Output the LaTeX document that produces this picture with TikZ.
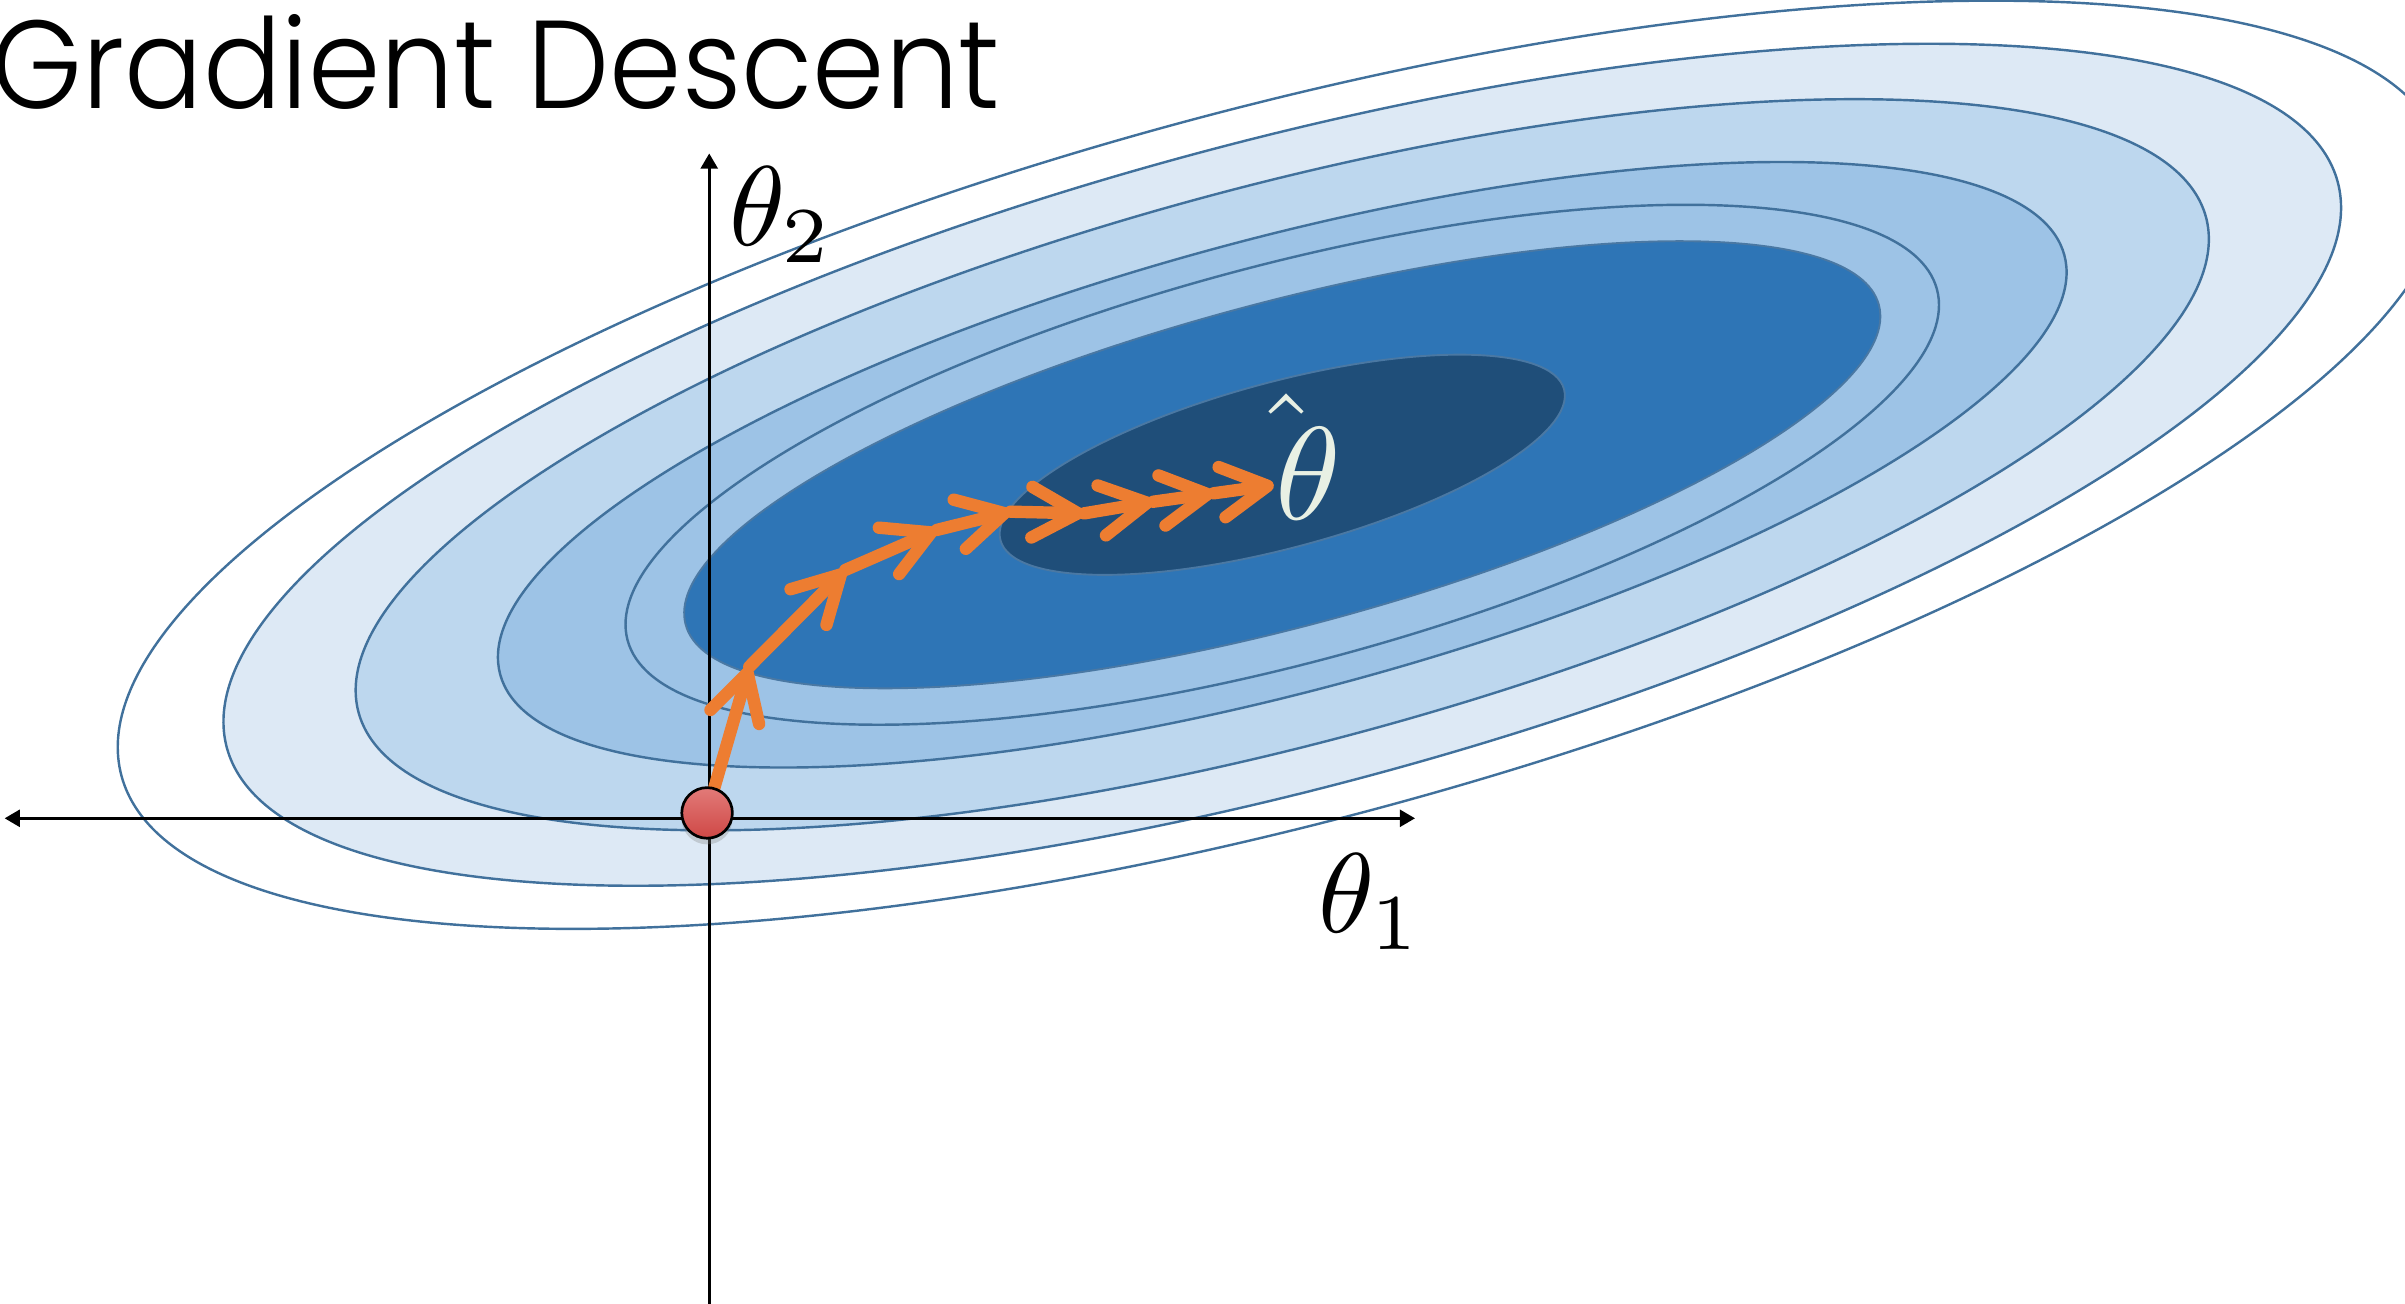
\documentclass[tikz,border=0pt]{standalone}
\usepackage{graphicx}
\usepackage{fontspec}
\usetikzlibrary{arrows.meta,shadows}
\IfFontExistsTF{Poppins Light}{\newfontfamily\titlefont{Poppins Light}}{\newfontfamily\titlefont{Poppins}}
\definecolor{lineblue}{HTML}{41719C}
\definecolor{coreline}{HTML}{4A78A3}
\definecolor{bandA}{HTML}{DDE9F5}
\definecolor{bandB}{HTML}{BDD7EE}
\definecolor{bandC}{HTML}{9DC3E6}
\definecolor{bandD}{HTML}{2E75B6}
\definecolor{bandE}{HTML}{1F4E79}
\definecolor{gdorange}{HTML}{ED7D31}
\definecolor{cream}{HTML}{E8F0E4}
\definecolor{dotTop}{HTML}{E27A78}
\definecolor{dotBot}{HTML}{CF4846}
\begin{document}
\begin{tikzpicture}[x=0.1mm,y=-0.1mm,
  contour/.style={draw=lineblue, line width=0.45pt, rotate around={15:(ctr)}},
  coreedge/.style={draw=coreline, line width=0.35pt, rotate around={15:(ctr)}},
  axis/.style={line width=0.6pt, draw=black},
  gdstep/.style={draw=gdorange, line width=2.3pt, line cap=round,
     -{Straight Barb[length=3mm,width=3.3mm,round]}},
  lbl/.style={inner sep=0pt},
  dot/.style={circle, minimum size=3.3mm, inner sep=0pt, draw=black, line width=0.5pt,
     top color=dotTop, bottom color=dotBot,
     drop shadow={opacity=0.3, shadow xshift=0pt, shadow yshift=-0.4mm}}
]
\useasboundingbox (0,0) rectangle (1568,850);
\coordinate (ctr) at (836,303);
\begin{scope}
\clip (0,0) rectangle (1568,850);
% level sets, outermost first
\path[contour] (ctr) ellipse [x radius=783.5, y radius=232.5];
\path[contour, fill=bandA] (ctr) ellipse [x radius=712.4, y radius=210.5];
\path[contour, fill=bandB] (ctr) ellipse [x radius=623.5, y radius=181.6];
\path[contour, fill=bandC] (ctr) ellipse [x radius=527.9, y radius=147.5];
\path[contour, fill=bandC] (ctr) ellipse [x radius=441.9, y radius=129.5];
\path[coreedge, fill=bandD] (ctr) ellipse [x radius=402.7, y radius=105.5];
\path[coreedge, fill=bandE] (ctr) ellipse [x radius=190.2, y radius=54.1];
\end{scope}

% title
\node[anchor=base west, inner sep=0pt, font=\titlefont\fontsize{23.2}{27}\selectfont]
  (title) at (-6,70.5) {\scalebox{0.93}[1]{Gradient Descent}};

% axes
\coordinate (axL) at (3,533.5);
\coordinate (axR) at (922.6,533.5);
\coordinate (axB) at (462.4,850);
\coordinate (axT) at (462.4,100);
\draw[axis, {Triangle[length=1mm,width=1.1mm]}-{Triangle[length=1mm,width=1.1mm]}] (axL) -- (axR);
\draw[axis, -{Triangle[length=1mm,width=1.1mm]}] (axB) -- (axT);

% axis labels
\node[lbl, anchor=base west] (th2) at (475,160) {\scalebox{2.1}{$\theta_2$}};
\node[lbl, anchor=base west] (th1) at (859,608) {\scalebox{2.1}{$\theta_1$}};

% gradient descent path
\coordinate (p0) at (461,530);
\coordinate (t1) at (488.5,434.7);
\coordinate (t2) at (551.1,371.6);
\coordinate (t3) at (610.8,345.5);
\coordinate (t4) at (658.8,333.6);
\coordinate (t5) at (706.8,334.7);
\coordinate (t6) at (751.9,327.1);
\coordinate (t7) at (791.3,321.6);
\coordinate (t8) at (830.5,316.2);
\draw[gdstep] (p0) -- (t1);
\draw[gdstep] (t1) -- (t2);
\draw[gdstep] (t2) -- (t3);
\draw[gdstep] (t3) -- (t4);
\draw[gdstep] (t4) -- (t5);
\draw[gdstep] (t5) -- (t6);
\draw[gdstep] (t6) -- (t7);
\draw[gdstep] (t7) -- (t8);

% start point
\node[dot] (start) at (p0) {};

% optimum label
\node[anchor=base, inner sep=0pt, text=cream] (thhat) at (853,339)
  {\scalebox{2.45}{$\skew{-6}{\hat}{\theta}$}};
\end{tikzpicture}
\end{document}
